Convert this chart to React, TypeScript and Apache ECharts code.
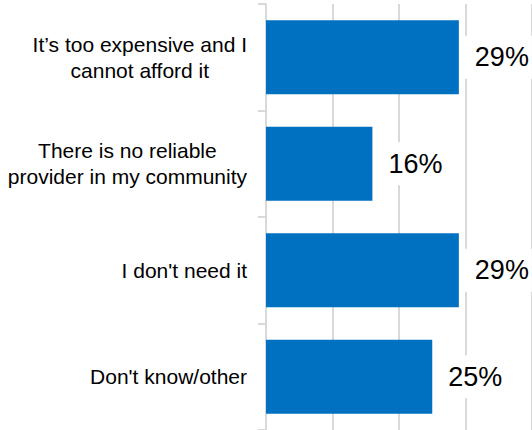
import React, { useEffect, useRef } from "react";
import * as echarts from "echarts";

const categories: string[][] = [
  ["It’s too expensive and I", "cannot afford it"],
  ["There is no reliable", "provider in my community"],
  ["I don't need it"],
  ["Don't know/other"],
];
const values: number[] = [29, 16, 29, 25];
const xTicks = { min: 0, max: 40, interval: 10 };

export default function App() {
  const ref = useRef<HTMLDivElement>(null);
  useEffect(() => {
    if (!ref.current) return;
    const chart = echarts.init(ref.current, undefined, { renderer: "svg" });
    const catNames = categories.map((c) => c.join("\n"));
    chart.setOption({
      animation: false,
      grid: { left: 266, right: 0, top: 4, bottom: 0, containLabel: false },
      xAxis: {
        type: "value",
        min: xTicks.min,
        max: xTicks.max,
        interval: xTicks.interval,
        axisLabel: { show: false },
        axisTick: { show: false },
        axisLine: { show: false },
        splitLine: { show: true, lineStyle: { color: "#d9d9d9", width: 2 } },
      },
      yAxis: {
        type: "category",
        inverse: true,
        data: catNames,
        axisLine: { show: true, lineStyle: { color: "#d9d9d9", width: 2 } },
        axisTick: { show: true, length: 8, lineStyle: { color: "#d9d9d9", width: 2 } },
        axisLabel: {
          margin: 19,
          formatter: (v: string) =>
            v
              .split("\n")
              .map((l) => `{c|${l}}`)
              .join("\n"),
          rich: {
            c: {
              align: "center",
              fontSize: 21,
              lineHeight: 26,
              color: "#000",
              fontFamily: "'Liberation Sans', Arial, sans-serif",
            },
          },
        },
      },
      series: [
        {
          type: "bar",
          data: values,
          barWidth: 74,
          itemStyle: { color: "#0070C0" },
          label: {
            show: true,
            position: "right",
            distance: 4,
            formatter: "{c}%",
            fontSize: 27,
            color: "#000",
            fontFamily: "'Liberation Sans', Arial, sans-serif",
            backgroundColor: "#ffffff",
            padding: [8, 3, 8, 12],
          },
        },
      ],
    });
    return () => chart.dispose();
  }, []);
  return (
    <div
      ref={ref}
      style={{ position: "absolute", left: 0, top: 0, width: 532, height: 430 }}
    />
  );
}
